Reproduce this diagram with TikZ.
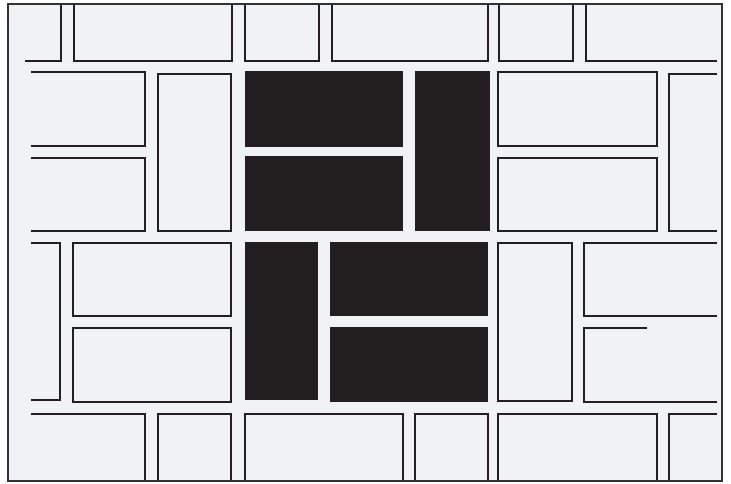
\documentclass[tikz,border=0pt]{standalone}
\definecolor{paper}{HTML}{F1F2F4}
\definecolor{ink}{HTML}{231F20}
\definecolor{framec}{HTML}{333333}
\tikzset{
  brick/.style={draw=ink, line width=1.9pt, line join=miter},
  darkbrick/.style={fill=ink, draw=none},
  framebox/.style={draw=framec, line width=2.4pt, fill=paper}
}
\begin{document}
\begin{tikzpicture}[x=1pt,y=-1pt]
\useasboundingbox (0,0) rectangle (731,483);
\fill[white] (0,0) rectangle (731,483);
\path[framebox] (8,4) rectangle (722,481);
\begin{scope}
\clip (8,4) rectangle (722,481);
% top row
\draw[brick] (25,61) -- (61,61) -- (61,4);
\draw[brick] (74,4) -- (74,61) -- (232,61) -- (232,4);
\draw[brick] (245,4) -- (245,61) -- (319,61) -- (319,4);
\draw[brick] (332,4) -- (332,61) -- (488,61) -- (488,4);
\draw[brick] (499,4) -- (499,61) -- (573,61) -- (573,4);
\draw[brick] (586,4) -- (586,61) -- (717,61);
% second band
\draw[brick] (31,72) -- (145,72) -- (145,146) -- (31,146);
\draw[brick] (31,158) -- (145,158) -- (145,231) -- (31,231);
\draw[brick] (158,74) rectangle (231,231);
\fill[darkbrick] (245,71) rectangle (403,147);
\fill[darkbrick] (245,156) rectangle (403,231);
\fill[darkbrick] (415,71) rectangle (490,231);
\draw[brick] (498,72) rectangle (657,146);
\draw[brick] (498,158) rectangle (657,231);
\draw[brick] (717,74) -- (669,74) -- (669,231) -- (717,231);
% third band
\draw[brick] (31,243) -- (60,243) -- (60,400) -- (31,400);
\draw[brick] (73,243) rectangle (231,316);
\draw[brick] (73,328) rectangle (231,402);
\fill[darkbrick] (245,242) rectangle (318,400);
\fill[darkbrick] (330,242) rectangle (488,316);
\fill[darkbrick] (330,327) rectangle (488,402);
\draw[brick] (498,243) rectangle (572,401);
\draw[brick] (717,243) -- (584,243) -- (584,316) -- (717,316);
\draw[brick] (647,328) -- (584,328) -- (584,402) -- (717,402);
% bottom row
\draw[brick] (31,414) -- (145,414) -- (145,481);
\draw[brick] (158,481) -- (158,414) -- (231,414) -- (231,481);
\draw[brick] (245,481) -- (245,414) -- (403,414) -- (403,481);
\draw[brick] (415,481) -- (415,414) -- (488,414) -- (488,481);
\draw[brick] (498,481) -- (498,414) -- (657,414) -- (657,481);
\draw[brick] (669,481) -- (669,414) -- (717,414);
\end{scope}
\draw[draw=framec, line width=2.4pt] (8,4) rectangle (722,481);
\end{tikzpicture}
\end{document}
